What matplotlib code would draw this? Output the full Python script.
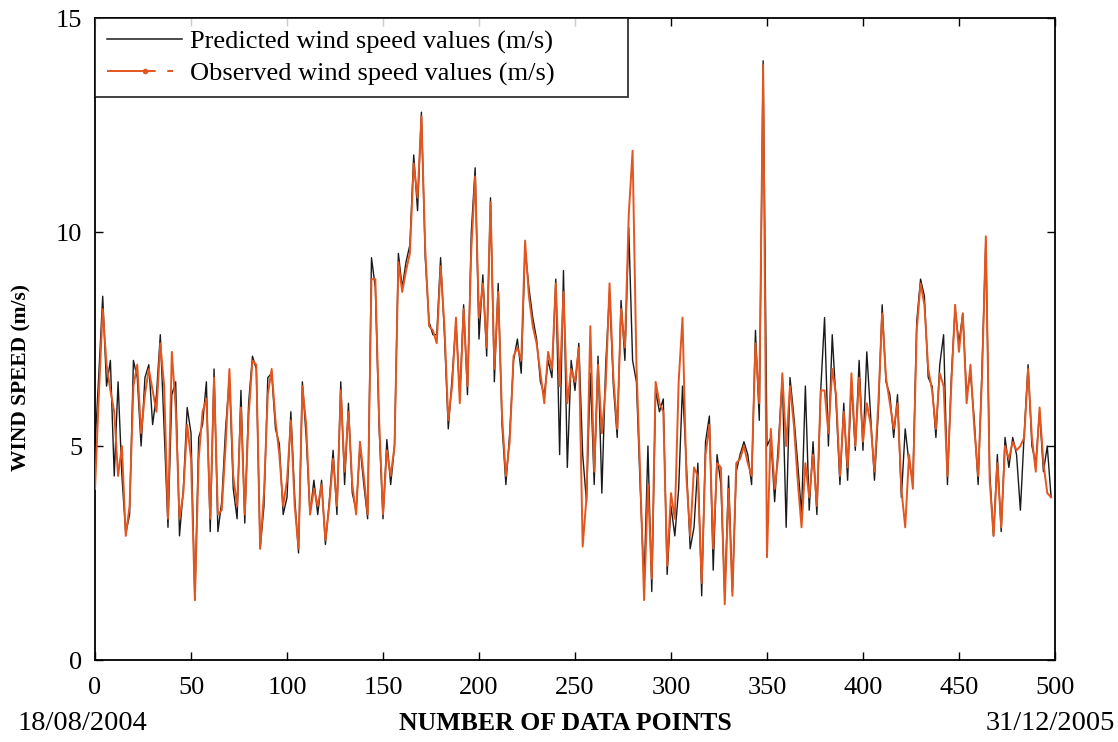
import numpy as np
import matplotlib
matplotlib.use("Agg")
import matplotlib.pyplot as plt
from matplotlib.lines import Line2D

plt.rcParams['font.family'] = ['Liberation Serif', 'DejaVu Serif']

# every 2nd data point, x = 0, 2, ..., 498
step = 2

predicted = [
    5.0, 6.7, 8.5, 6.4, 7.0, 4.3, 6.5, 4.3, 2.95, 3.4,
    7.0, 6.6, 5.0, 6.6, 6.9, 5.5, 6.2, 7.6, 5.4, 3.1,
    6.2, 6.5, 2.9, 4.0, 5.9, 5.3, 1.4, 5.2, 5.5, 6.5,
    3.0, 6.8, 3.0, 3.7, 5.4, 6.6, 4.0, 3.3, 6.3, 3.2,
    6.0, 7.1, 6.8, 2.6, 3.6, 6.6, 6.7, 5.4, 5.05, 3.4,
    3.8, 5.8, 3.8, 2.5, 6.5, 5.2, 3.4, 4.2, 3.4, 4.2,
    2.7, 3.7, 4.9, 3.4, 6.5, 4.1, 6.0, 3.9, 3.5, 5.0,
    4.1, 3.3, 9.4, 8.7, 5.4, 3.3, 5.15, 4.1, 5.0, 9.5,
    8.7, 9.3, 9.7, 11.8, 10.5, 12.8, 9.4, 7.9, 7.6, 7.6,
    9.4, 7.6, 5.4, 6.6, 7.9, 6.2, 8.3, 6.2, 10.0, 11.5,
    7.5, 9.0, 7.1, 10.8, 6.5, 8.8, 5.5, 4.1, 5.3, 7.0,
    7.5, 6.7, 9.6, 8.7, 8.0, 7.5, 6.5, 6.2, 7.0, 6.6,
    8.9, 4.8, 9.1, 4.5, 7.0, 6.3, 7.4, 4.8, 3.7, 6.7,
    4.1, 7.1, 3.9, 6.9, 8.6, 6.4, 5.2, 8.4, 7.0, 10.1,
    7.0, 6.5, 4.0, 1.8, 5.0, 1.6, 6.3, 5.8, 6.1, 2.0,
    3.6, 2.9, 4.0, 6.4, 4.6, 2.6, 3.1, 4.6, 1.5, 5.1,
    5.7, 2.1, 4.8, 4.1, 1.5, 4.3, 1.6, 4.4, 4.8, 5.1,
    4.8, 4.1, 7.7, 5.6, 14.0, 5.0, 5.2, 3.7, 5.1, 6.6,
    3.1, 6.6, 5.7, 4.6, 3.4, 6.4, 3.5, 5.1, 3.4, 6.3,
    8.0, 5.0, 7.6, 6.0, 4.1, 6.0, 4.2, 6.5, 4.9, 7.0,
    4.9, 7.2, 5.7, 4.2, 5.8, 8.3, 6.5, 6.2, 5.2, 6.2,
    3.8, 5.4, 4.6, 4.2, 7.9, 8.9, 8.5, 6.6, 6.4, 5.2,
    6.9, 7.6, 4.1, 6.6, 8.2, 7.4, 8.1, 6.2, 6.7, 5.6,
    4.1, 6.8, 9.8, 4.4, 2.9, 4.8, 3.0, 5.2, 4.5, 5.2,
    4.8, 3.5, 5.3, 6.9, 5.0, 4.6, 5.8, 4.4, 5.0, 3.8,
]

observed = [
    4.0, 6.2, 8.2, 6.9, 6.3, 5.8, 4.3, 5.0, 2.9, 3.6,
    6.4, 6.9, 5.3, 6.2, 6.8, 6.3, 5.8, 7.4, 6.4, 3.3,
    7.2, 5.9, 3.3, 3.9, 5.5, 4.7, 1.4, 4.7, 5.8, 6.1,
    3.3, 6.6, 3.4, 3.5, 5.0, 6.8, 4.3, 3.6, 5.9, 3.4,
    5.7, 7.0, 6.9, 2.6, 3.9, 6.2, 6.8, 5.6, 4.8, 3.6,
    4.2, 5.6, 3.6, 2.6, 6.4, 5.5, 3.4, 4.0, 3.6, 4.1,
    2.8, 3.6, 4.7, 3.6, 6.3, 4.4, 5.8, 4.1, 3.4, 5.1,
    4.3, 3.4, 8.9, 8.9, 5.6, 3.4, 4.9, 4.3, 5.0, 9.3,
    8.6, 9.1, 9.5, 11.6, 10.8, 12.7, 9.6, 7.8, 7.7, 7.4,
    9.2, 7.8, 5.6, 6.4, 8.0, 6.0, 8.2, 6.4, 9.6, 11.3,
    8.0, 8.8, 7.3, 10.7, 6.8, 8.6, 5.7, 4.3, 5.1, 7.1,
    7.3, 7.0, 9.8, 8.5, 7.8, 7.4, 6.7, 6.0, 7.2, 6.8,
    8.8, 6.4, 8.6, 6.0, 6.8, 6.5, 7.3, 2.65, 3.8, 7.8,
    4.4, 6.9, 5.3, 6.4, 8.8, 6.6, 5.4, 8.2, 7.3, 10.4,
    11.9, 6.9, 4.3, 1.4, 4.1, 1.9, 6.5, 6.0, 5.8, 2.2,
    3.9, 3.3, 6.5, 8.0, 4.3, 2.9, 4.5, 4.3, 1.8, 4.8,
    5.5, 2.6, 4.6, 4.5, 1.3, 4.0, 1.5, 4.6, 4.7, 5.0,
    4.6, 4.3, 7.4, 6.0, 13.9, 2.4, 5.4, 4.0, 4.8, 6.7,
    5.0, 6.4, 5.5, 4.2, 3.1, 4.6, 3.8, 4.8, 3.6, 6.3,
    6.3, 5.3, 6.8, 6.2, 4.3, 5.8, 4.5, 6.7, 5.0, 6.6,
    5.1, 6.0, 5.5, 4.4, 6.0, 8.1, 6.6, 6.0, 5.4, 6.0,
    4.0, 3.1, 4.8, 4.0, 7.7, 8.8, 8.3, 6.8, 6.3, 5.4,
    6.7, 6.4, 4.3, 6.4, 8.3, 7.2, 8.1, 6.0, 6.9, 5.4,
    4.3, 6.6, 9.9, 4.2, 2.9, 4.6, 3.1, 5.0, 4.7, 5.1,
    4.9, 5.0, 5.2, 6.8, 5.2, 4.4, 5.9, 4.6, 3.9, 3.8,
]

x = np.arange(len(predicted)) * step

orange = '#E4561F'

fig = plt.figure(figsize=(11.18, 7.42), dpi=100)
ax = fig.add_axes([0.085, 0.1105, 0.8586, 0.8652])

ax.plot(x, predicted, color='#1a1a1a', lw=1.0, zorder=2)
ax.plot(x, observed, color=orange, lw=1.4, zorder=3)

ax.set_xlim(0, 500)
ax.set_ylim(0, 15)
ax.set_xticks(np.arange(0, 501, 50))
ax.set_yticks([0, 5, 10, 15])
ax.tick_params(direction='in', top=True, right=True, labelsize=19, length=6, width=1)
ax.tick_params(axis='x', pad=12)
ax.tick_params(axis='y', pad=9)
for s in ax.spines.values():
    s.set_linewidth(1.3)

ax.set_ylabel('WIND SPEED (m/s)', fontsize=15.5, fontweight='bold')
ax.yaxis.set_label_coords(-0.066, 0.44)
ax.set_xlabel('NUMBER OF DATA POINTS', fontsize=18.5, fontweight='bold')
ax.xaxis.set_label_coords(0.49, -0.081)
fig.text(0.016, 0.008, '18/08/2004', fontsize=20.5, ha='left', va='bottom')
fig.text(0.997, 0.008, '31/12/2005', fontsize=20.5, ha='right', va='bottom')

handles = [
    Line2D([], [], color='#1a1a1a', lw=1.1),
    Line2D([], [], color=orange, lw=1.4, marker='.', markersize=6, dashes=(25, 6, 3, 6)),
]
leg = ax.legend(handles, ['Predicted wind speed values (m/s)', 'Observed wind speed values (m/s)'],
                loc='upper left', bbox_to_anchor=(0, 0, 0.555, 1), mode='expand',
                borderaxespad=0, fontsize=19, frameon=True, fancybox=False,
                handlelength=2.85, handletextpad=0.3, borderpad=0.45, labelspacing=0.3)
leg.get_frame().set_edgecolor('black')
leg.get_frame().set_linewidth(1.3)

fig.savefig('out.png', dpi=100)
